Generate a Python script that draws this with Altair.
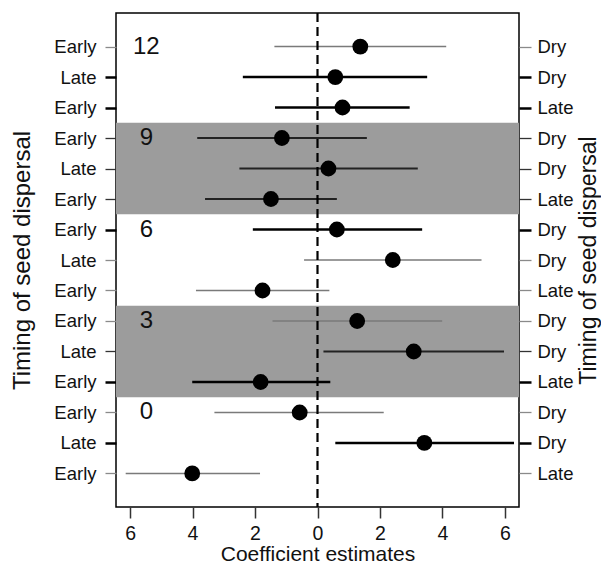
import altair as alt
import pandas as pd

rows = list(range(15))
left_labels = ["Early", "Late", "Early"] * 5
right_labels = ["Dry", "Dry", "Late"] * 5
estimates = [1.37, 0.57, 0.80, -1.14, 0.35, -1.49, 0.62, 2.41, -1.76, 1.27, 3.08, -1.82, -0.57, 3.42, -4.01]
lower = [-1.38, -2.39, -1.36, -3.85, -2.50, -3.60, -2.07, -0.43, -3.89, -1.44, 0.19, -4.01, -3.30, 0.57, -6.14]
upper = [4.12, 3.51, 2.95, 1.58, 3.21, 0.62, 3.35, 5.25, 0.38, 3.99, 5.97, 0.41, 2.12, 6.29, -1.84]
styles = ["gray", "thick", "thick", "thin", "thin", "thin", "thick", "gray",
          "gray", "gray", "thin", "thick", "gray", "thick", "gray"]
group_rows = [0, 3, 6, 9, 12]
group_labels = ["12", "9", "6", "3", "0"]
group_x = [-5.48] * 5
band_start = [2.5, 8.5]
band_end = [5.5, 11.5]
x_ticks = [-6, -4, -2, 0, 2, 4, 6]

df = pd.DataFrame({"row": rows, "est": estimates, "lo": lower, "hi": upper, "style": styles})
groups = pd.DataFrame({"row": group_rows, "label": group_labels, "x": group_x})
bands = pd.DataFrame({"y0": band_start, "y1": band_end})
zero = pd.DataFrame({"x": [0]})

FONT = "Liberation Sans"
xscale = alt.Scale(domain=[-6.45, 6.45], nice=False, zero=False)
yscale = alt.Scale(domain=[-1.1, 15.1], nice=False, zero=False, reverse=True)

thick_rows = [i for i, s in enumerate(styles) if s == "thick"]
thin_rows = [i for i, s in enumerate(styles) if s == "thin"]
thick_test = "indexof(%s, datum.value) >= 0" % str(thick_rows)
thin_test = "indexof(%s, datum.value) >= 0" % str(thin_rows)

tick_color = {"condition": [{"test": thick_test, "value": "#000000"},
                            {"test": thin_test, "value": "#333333"}],
              "value": "#8a8a8a"}
tick_width = {"condition": {"test": thick_test, "value": 2.5}, "value": 1.3}

def arr_js(lst):
    return "[" + ",".join("'%s'" % s for s in lst) + "]"

x_axis = alt.Axis(values=x_ticks, labelExpr="abs(datum.value)", title="Coefficient estimates",
                  tickSize=11, tickWidth=1.5, tickColor="#333333", labelFontSize=19.5,
                  labelPadding=6, titleFontSize=21, titlePadding=1, titleFontWeight="normal",
                  labelFont=FONT, titleFont=FONT, labelColor="#111111", titleColor="#111111")

left_axis = alt.Axis(values=rows, labelExpr=arr_js(left_labels) + "[datum.value]",
                     title="Timing of seed dispersal", orient="left",
                     tickSize=11, tickColor=tick_color, tickWidth=tick_width,
                     labelFontSize=18.5, labelPadding=9, labelFont=FONT, labelColor="#111111",
                     titleFontSize=24, titlePadding=19, titleFont=FONT, titleFontWeight="normal",
                     titleColor="#111111")

right_axis = alt.Axis(values=rows, labelExpr=arr_js(right_labels) + "[datum.value]",
                      title="Timing of seed dispersal", orient="right",
                      tickSize=12, tickColor=tick_color, tickWidth=tick_width,
                      labelFontSize=18.5, labelPadding=6, labelFont=FONT, labelColor="#111111",
                      titleFontSize=23, titlePadding=4, titleFont=FONT, titleFontWeight="normal",
                      titleColor="#111111", titleAngle=270, titleBaseline="top")

band_layer = alt.Chart(bands).mark_rect(color="#9c9c9c").encode(
    x=alt.value(0), x2=alt.value(403),
    y=alt.Y("y0:Q", scale=yscale, axis=None), y2="y1:Q")

rules = alt.Chart(df).mark_rule().encode(
    x=alt.X("lo:Q", scale=xscale, axis=x_axis), x2="hi:Q",
    y=alt.Y("row:Q", scale=yscale, axis=left_axis),
    color=alt.Color("style:N", scale=alt.Scale(domain=["thick", "thin", "gray"],
                                               range=["#000000", "#222222", "#7a7a7a"]), legend=None),
    strokeWidth=alt.StrokeWidth("style:N", scale=alt.Scale(domain=["thick", "thin", "gray"],
                                                          range=[2.6, 1.4, 1.4]), legend=None))

zero_line = alt.Chart(zero).mark_rule(color="black", strokeWidth=2.2, strokeDash=[9, 5]).encode(
    x=alt.X("x:Q", scale=xscale, axis=x_axis))

points = alt.Chart(df).mark_circle(color="black", opacity=1, size=250).encode(
    x=alt.X("est:Q", scale=xscale, axis=x_axis),
    y=alt.Y("row:Q", scale=yscale, axis=right_axis))

texts = alt.Chart(groups).mark_text(fontSize=24, font=FONT, color="#111111", align="center",
                                    baseline="middle").encode(
    x=alt.X("x:Q", scale=xscale, axis=x_axis),
    y=alt.Y("row:Q", scale=yscale, axis=None),
    text="label:N")

chart = alt.layer(band_layer, rules, zero_line, points, texts).resolve_axis(y="independent").properties(
    width=403, height=494,
    padding={"left": 108, "top": 5, "right": 82, "bottom": 59},
    autosize="none",
).configure_view(stroke="black", strokeWidth=1.5).configure_axis(domain=False, grid=False)

chart.save("out.html", embed_options={"renderer": "svg", "actions": False})
